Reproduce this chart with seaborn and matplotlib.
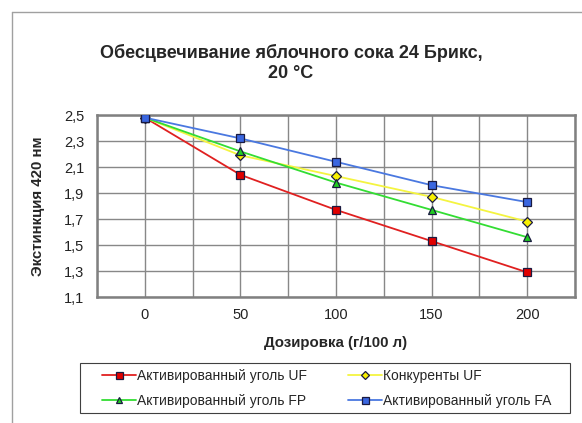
import matplotlib
matplotlib.use("Agg")
import matplotlib.pyplot as plt
import seaborn as sns
import pandas as pd
from matplotlib.lines import Line2D
from matplotlib.patches import Rectangle

doses = [0, 50, 100, 150, 200]
series_names = ["Активированный уголь UF", "Активированный уголь FP",
                "Конкуренты UF", "Активированный уголь FA"]
uf_values = [2.48, 2.04, 1.77, 1.53, 1.29]
fp_values = [2.48, 2.22, 1.98, 1.77, 1.56]
konk_values = [2.48, 2.19, 2.03, 1.87, 1.68]
fa_values = [2.48, 2.32, 2.14, 1.96, 1.83]
y_ticks = [1.1, 1.3, 1.5, 1.7, 1.9, 2.1, 2.3, 2.5]
y_tick_labels = ["1,1", "1,3", "1,5", "1,7", "1,9", "2,1", "2,3", "2,5"]

title = "Обесцвечивание яблочного сока 24 Брикс,\n20 °C"
xlabel = "Дозировка (г/100 л)"
ylabel = "Экстинкция 420 нм"

rows = []
for name, vals in zip(series_names, [uf_values, fp_values, konk_values, fa_values]):
    for d, v in zip(doses, vals):
        rows.append({"dose": d, "value": v, "series": name})
df = pd.DataFrame(rows)

sns.set_style("white")
plt.rcParams["font.family"] = ["Liberation Sans", "DejaVu Sans"]

line_colors = {
    "Активированный уголь UF": "#e02020",
    "Активированный уголь FP": "#33dd33",
    "Конкуренты UF": "#f4f440",
    "Активированный уголь FA": "#4a78e0",
}
face_colors = {
    "Активированный уголь UF": "#e00000",
    "Активированный уголь FP": "#22cc22",
    "Конкуренты UF": "#f8f000",
    "Активированный уголь FA": "#3a66e0",
}
markers = {
    "Активированный уголь UF": "s",
    "Активированный уголь FP": "^",
    "Конкуренты UF": "D",
    "Активированный уголь FA": "s",
}
msizes = {
    "Активированный уголь UF": 6.3,
    "Активированный уголь FP": 6,
    "Конкуренты UF": 4.8,
    "Активированный уголь FA": 6.3,
}

fig = plt.figure(figsize=(5.82, 4.23), dpi=100)
ax = fig.add_axes([97 / 582, 1 - 297 / 423, (575 - 97) / 582, (297 - 115) / 423])

draw_order = ["Активированный уголь UF", "Конкуренты UF",
              "Активированный уголь FP", "Активированный уголь FA"]
for name in draw_order:
    sub = df[df["series"] == name]
    sns.lineplot(data=sub, x="dose", y="value", ax=ax, color=line_colors[name],
                 marker=markers[name], markersize=msizes[name],
                 markerfacecolor=face_colors[name], markeredgecolor="#1a1a40",
                 markeredgewidth=0.9, linewidth=1.3, label=name, zorder=3)

ax.set_xlim(-25, 225)
ax.set_ylim(1.1, 2.5)
ax.set_xticks(doses)
ax.set_xticklabels([str(d) for d in doses])
ax.set_xticks([-25, 25, 75, 125, 175, 225], minor=True)
ax.set_yticks(y_ticks)
ax.set_yticklabels(y_tick_labels)
ax.tick_params(axis="x", which="major", length=0, labelsize=10.5, pad=8, colors="#222222")
ax.tick_params(axis="x", which="minor", length=5, width=1, color="#808080", direction="out")
ax.tick_params(axis="y", which="major", length=5, width=1, color="#808080", direction="out",
               labelsize=10.5, pad=4, labelcolor="#222222")
ax.grid(True, which="both", axis="x", color="#888888", linewidth=1)
ax.grid(True, which="major", axis="y", color="#888888", linewidth=1)
for s in ax.spines.values():
    s.set_color("#808080")
    s.set_linewidth(1.8)

ax.set_xlabel(xlabel, fontsize=10.8, fontweight="bold", labelpad=10)
ax.set_ylabel(ylabel, fontsize=10.8, fontweight="bold", labelpad=14)
fig.text(0.5, 1 - 63 / 423, title, ha="center", va="center", fontsize=13,
         fontweight="bold", linespacing=1.3)

handles, labels = ax.get_legend_handles_labels()
ax.get_legend().remove()
order = [labels.index(n) for n in series_names]
leg = fig.legend([handles[i] for i in order], [labels[i] for i in order], ncol=2,
                 loc="center", bbox_to_anchor=(327 / 582, 1 - 388.5 / 423),
                 fontsize=10, frameon=False, handlelength=2.45, handletextpad=0.08,
                 columnspacing=2.95, borderpad=0.0, labelspacing=0.8, markerscale=0.8)
fig.add_artist(Rectangle((80 / 582, 1 - 413 / 423), (570 - 80) / 582, 50 / 423,
                         transform=fig.transFigure, facecolor="none",
                         edgecolor="#404040", linewidth=0.8))

fig.add_artist(Line2D([12 / 582, 1], [1 - 12 / 423, 1 - 12 / 423], color="#a0a0a0", linewidth=1))
fig.add_artist(Line2D([12 / 582, 12 / 582], [0, 1 - 12 / 423], color="#a0a0a0", linewidth=1))

fig.savefig("out.png", dpi=100)
